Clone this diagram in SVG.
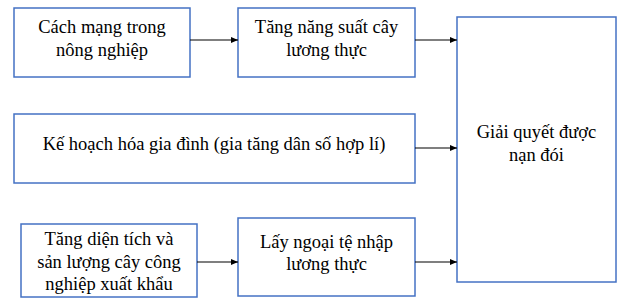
<svg xmlns="http://www.w3.org/2000/svg" width="624" height="301" viewBox="0 0 624 301">
<style>
.box{fill:#fff;stroke:#4472C4;stroke-width:1.5}
.t{text-anchor:middle}
.c{stroke:#000;stroke-width:1.2;fill:none;marker-end:url(#ah)}
</style>
<defs>
<marker id="ah" markerWidth="8" markerHeight="6" refX="7" refY="3" orient="auto" markerUnits="userSpaceOnUse">
<path d="M0,0 L7,3 L0,6 Z" fill="#000"/>
</marker>
</defs>
<rect width="624" height="301" fill="#fff"/>
<g id="nodes" font-family="Liberation Serif" font-size="18.5" fill="#000">
<g id="n1"><rect class="box" x="14" y="8" width="176" height="69"/>
<text class="t" x="102" y="33">Cách mạng trong</text><text class="t" x="102" y="56">nông nghiệp</text></g>
<g id="n2"><rect class="box" x="238" y="8" width="177" height="69"/>
<text class="t" x="326.5" y="33">Tăng năng suất cây</text><text class="t" x="326.5" y="56">lương thực</text></g>
<g id="n3"><rect class="box" x="14" y="114" width="401" height="69"/>
<text class="t" x="214" y="150">Kế hoạch hóa gia đình (gia tăng dân số hợp lí)</text></g>
<g id="n4"><rect class="box" x="21" y="224" width="176" height="73"/>
<text class="t" x="109" y="245">Tăng diện tích và</text><text class="t" x="109" y="268">sản lượng cây công</text><text class="t" x="109" y="290">nghiệp xuất khẩu</text></g>
<g id="n5"><rect class="box" x="238" y="218" width="177" height="78"/>
<text class="t" x="326.5" y="248">Lấy ngoại tệ nhập</text><text class="t" x="326.5" y="270">lương thực</text></g>
<g id="n6"><rect class="box" x="457" y="17" width="159" height="265"/>
<text class="t" x="536.5" y="138">Giải quyết được</text><text class="t" x="536.5" y="161">nạn đói</text></g>
</g>
<g id="connectors">
<line class="c" x1="190" y1="40" x2="238" y2="40"/>
<line class="c" x1="415" y1="40" x2="457" y2="40"/>
<line class="c" x1="415" y1="148" x2="457" y2="148"/>
<line class="c" x1="197" y1="262" x2="238" y2="262"/>
<line class="c" x1="415" y1="262" x2="457" y2="262"/>
</g>
</svg>
